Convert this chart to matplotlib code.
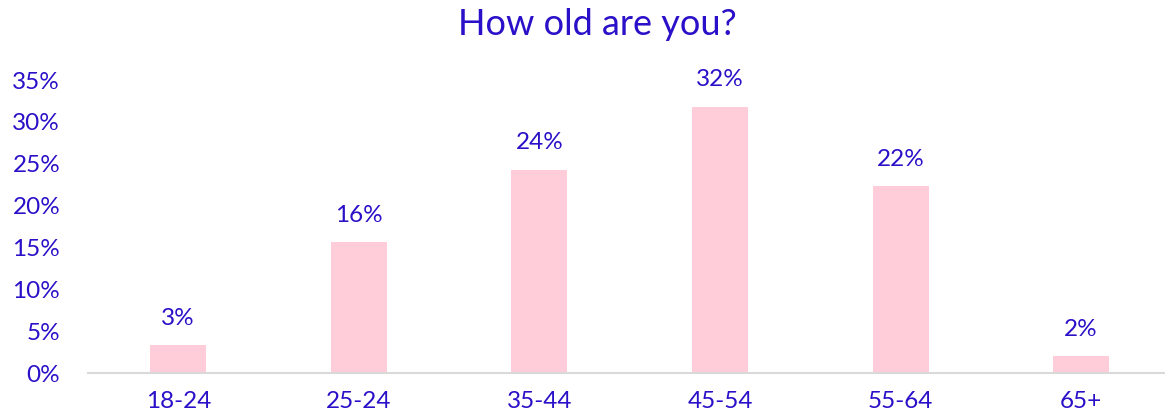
import matplotlib.pyplot as plt
import numpy as np

# Age distribution of respondents
age_groups = ['18-24', '25-24', '35-44', '45-54', '55-64', '65+']
shares = [3.3, 15.6, 24.3, 31.8, 22.3, 2.0]
y_ticks = [0, 5, 10, 15, 20, 25, 30, 35]

text_color = '#2a10c8'
bar_color = '#ffccd9'

plt.rcParams['font.family'] = ['Lato', 'DejaVu Sans']

fig = plt.figure(figsize=(11.65, 4.15), dpi=100)
ax = fig.add_axes([0.0755, 0.101, 0.930, 0.706])

x = np.arange(len(age_groups))
bars = ax.bar(x, shares, width=0.31, color=bar_color)

for rect, v in zip(bars, shares):
    ax.annotate(f'{v:.0f}%', (rect.get_x() + rect.get_width() / 2, v),
                xytext=(0, 12), textcoords='offset points',
                ha='center', va='bottom', fontsize=17.5, color=text_color)

ax.set_xlim(-0.5, len(age_groups) - 0.5)
ax.set_ylim(0, 35)
ax.set_yticks(y_ticks)
ax.set_yticklabels([f'{t}%' for t in y_ticks])
ax.set_xticks(x)
ax.set_xticklabels(age_groups)
ax.tick_params(axis='both', length=0, labelsize=17.5, labelcolor=text_color)
ax.tick_params(axis='y', pad=20)
ax.tick_params(axis='x', pad=13)

for side in ['top', 'right', 'left']:
    ax.spines[side].set_visible(False)
ax.spines['bottom'].set_color('#d9d9d9')
ax.spines['bottom'].set_linewidth(1.5)

fig.text(0.513, 0.94, 'How old are you?', ha='center', va='center',
         fontsize=26, color=text_color)

fig.savefig('out.png', dpi=100)
